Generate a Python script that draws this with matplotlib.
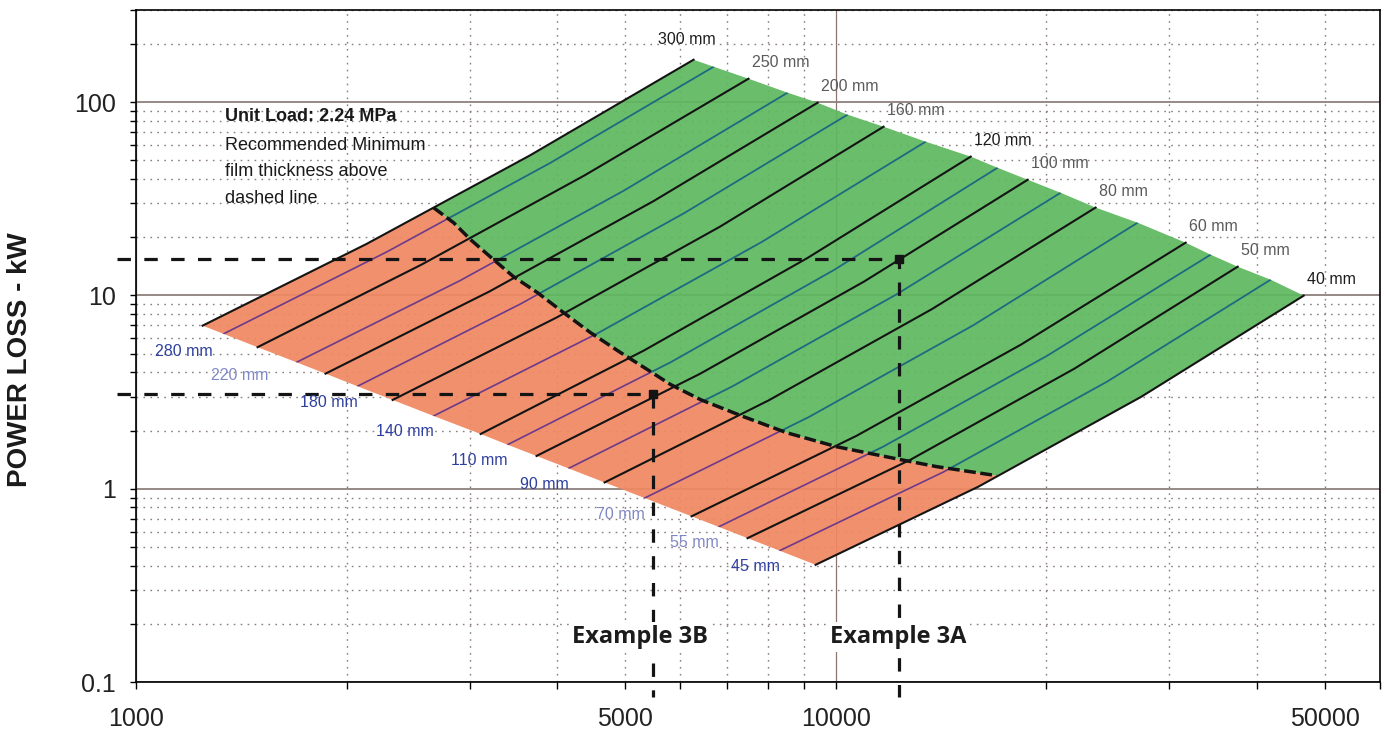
import numpy as np
import matplotlib
matplotlib.use("Agg")
import matplotlib.pyplot as plt
from matplotlib.patches import Polygon
from matplotlib.ticker import LogLocator, FuncFormatter, NullFormatter

plt.rcParams["font.family"] = ["Liberation Sans", "DejaVu Sans"]

# ── Values ────────────────────────────────────────────────────────────────────
# shaft diameter (mm); every curve = start (min speed edge), two inner points,
# end (max speed edge)
diam_mm = [300, 280, 250, 220, 200, 180, 160, 140, 120, 110,
           100, 90, 80, 70, 60, 55, 50, 45, 40]

rpm_start = [1245, 1334, 1492, 1696, 1866, 2073, 2327, 2663, 3109, 3397,
             3737, 4152, 4675, 5334, 6225, 6805, 7484, 8317, 9363]
kw_start = [6.98, 6.33, 5.40, 4.51, 3.94, 3.39, 2.88, 2.38, 1.92, 1.69,
            1.478, 1.274, 1.078, 0.895, 0.720, 0.635, 0.555, 0.478, 0.404]

rpm_q1 = [2134, 2283, 2557, 2908, 3202, 3549, 3989, 4568, 5321, 5815,
          6406, 7124, 8014, 9159, 10710, 11680, 12820, 14260, 16000]
kw_q1 = [18.45, 16.81, 14.42, 11.96, 10.50, 9.06, 7.68, 6.37, 5.19, 4.52,
         3.94, 3.39, 2.86, 2.35, 1.878, 1.647, 1.419, 1.221, 1.025]

rpm_q2 = [3655, 3909, 4381, 4983, 5494, 6078, 6835, 7839, 9111, 9957,
          10980, 12220, 13730, 15740, 18410, 20030, 21940, 24430, 27320]
kw_q2 = [53.0, 48.5, 41.9, 34.9, 30.8, 26.7, 22.7, 18.9, 15.61, 13.58,
         11.80, 10.13, 8.50, 7.02, 5.57, 4.86, 4.18, 3.58, 2.985]

rpm_end = [6266, 6694, 7508, 8538, 9425, 10400, 11710, 13450, 15600, 17040,
           18820, 20970, 23530, 27020, 31650, 34360, 37560, 41870, 46680]
kw_end = [165.9, 152.6, 132.3, 112.0, 99.4, 86.2, 74.7, 62.5, 52.3, 45.8,
          39.7, 34.0, 28.5, 23.8, 18.76, 16.26, 14.09, 12.07, 9.98]

# recommended minimum film thickness limit (dashed)
film_rpm = [2663, 2844, 3008, 3245, 3464, 3749, 4085, 4464, 4929, 5386,
            5810, 6412, 7386, 8510, 10030, 12390, 13950, 16990]
film_kw = [28.46, 23.80, 19.44, 15.32, 12.51, 10.34, 8.15, 6.42, 5.06, 4.13,
           3.46, 2.89, 2.36, 1.95, 1.65, 1.414, 1.301, 1.169]

ex_names = ["Example 3A", "Example 3B"]
ex_rpm = [12300, 5490]
ex_kw = [15.5, 3.10]

note_lines = ["Unit Load: 2.24 MPa", "Recommended Minimum",
              "film thickness above", "dashed line"]

# ── Styles ────────────────────────────────────────────────────────────────────
GREEN = "#5fb860"
SALMON = "#f08862"
BLACK = "#141414"
TEAL = "#1e6a80"
PURPLE = "#6c3a8a"
BLUE_TXT = "#2e3f9e"
FADED_BLUE = ["220", "70", "55"]
SHARP_BLACK = ["300", "120", "40"]
LEAD_RPM, DROP_KW = 940, 0.084   # example guide lines run past the axes

fig = plt.figure(figsize=(13.86, 7.33), dpi=100)
ax = fig.add_axes([136 / 1386, 51 / 733, 1244 / 1386, 672 / 733])
ax.set_xscale("log")
ax.set_yscale("log")
ax.set_xlim(1000, 60000)
ax.set_ylim(0.1, 300)

# grid
ax.set_axisbelow(True)
ax.xaxis.set_major_locator(LogLocator(base=10, numticks=10))
ax.xaxis.set_minor_locator(LogLocator(base=10, subs=np.arange(2, 10), numticks=30))
ax.yaxis.set_major_locator(LogLocator(base=10, numticks=10))
ax.yaxis.set_minor_locator(LogLocator(base=10, subs=np.arange(2, 10), numticks=30))
ax.yaxis.grid(True, which="major", color="#8d807c", lw=1.3, ls="-")
ax.xaxis.grid(True, which="major", color="#8d7570", lw=0.9, ls="-")
ax.grid(True, which="minor", color="#8a7e7e", lw=1.0, ls=(0, (1.2, 3.8)))

ax.xaxis.set_major_formatter(FuncFormatter(lambda v, p: f"{v:.0f}"))
ax.xaxis.set_minor_formatter(FuncFormatter(
    lambda v, p: f"{v:.0f}" if int(round(v)) in (5000, 50000) else ""))
ax.yaxis.set_major_formatter(FuncFormatter(lambda v, p: f"{v:g}"))
ax.yaxis.set_minor_formatter(NullFormatter())
ax.tick_params(axis="x", which="both", direction="out", length=5, width=1,
               pad=13, labelsize=18, labelcolor="#222222")
ax.tick_params(axis="y", which="both", direction="out", length=4.5, width=1,
               pad=10, labelsize=18, labelcolor="#222222")
for s in ax.spines.values():
    s.set_color("black")
    s.set_linewidth(1.2)

# ── Regions ───────────────────────────────────────────────────────────────────
curves = [np.array([[rpm_start[i], kw_start[i]], [rpm_q1[i], kw_q1[i]],
                    [rpm_q2[i], kw_q2[i]], [rpm_end[i], kw_end[i]]])
          for i in range(len(diam_mm))]
film = np.column_stack([film_rpm, film_kw])
starts = np.column_stack([rpm_start, kw_start])
ends = np.column_stack([rpm_end, kw_end])
top, bot = curves[0], curves[-1]

red_xy = np.vstack([top[:2], film, bot[1::-1], starts[-2:0:-1]])
green_xy = np.vstack([film[:1], top[2:], ends[1:-1], bot[:1:-1], film[::-1]])

red_patch = Polygon(red_xy, closed=True, facecolor=SALMON, edgecolor="none",
                    alpha=0.93, zorder=1)
green_patch = Polygon(green_xy, closed=True, facecolor=GREEN, edgecolor="none",
                      alpha=0.93, zorder=1)
ax.add_patch(red_patch)
ax.add_patch(green_patch)

# ── Diameter curves ───────────────────────────────────────────────────────────
for i, (d, c) in enumerate(zip(diam_mm, curves)):
    if i % 2 == 0:
        ax.plot(c[:, 0], c[:, 1], color=BLACK, lw=1.5, zorder=3,
                solid_joinstyle="round")
    else:
        l1, = ax.plot(c[:, 0], c[:, 1], color=PURPLE, lw=1.2, zorder=2,
                      solid_joinstyle="round")
        l1.set_clip_path(red_patch)
        l2, = ax.plot(c[:, 0], c[:, 1], color=TEAL, lw=1.3, zorder=2.1,
                      solid_joinstyle="round")
        l2.set_clip_path(green_patch)

# labels: black curves at max speed end, blue curves at min speed start
for i, d in enumerate(diam_mm):
    txt = f"{d} mm"
    if i % 2 == 0:
        off = (-36, 20) if d == 300 else (3, 16)
        col = "#1c1c1c" if str(d) in SHARP_BLACK else "#5a5a5a"
        ax.annotate(txt, (rpm_end[i], kw_end[i]), xytext=off,
                    textcoords="offset pixels", ha="left", va="center",
                    fontsize=11.5, color=col, zorder=7)
    else:
        off = {280: (-11, -18), 220: (-28, -13)}.get(d, (0, -16))
        col = "#8088c4" if str(d) in FADED_BLUE else BLUE_TXT
        ax.annotate(txt, (rpm_start[i], kw_start[i]), xytext=off,
                    textcoords="offset pixels", ha="right", va="center",
                    fontsize=11.5, color=col, zorder=7)

# minimum film thickness boundary
ax.plot(film[:, 0], film[:, 1], color=BLACK, lw=2.5, ls=(0, (3.4, 1.3)),
        zorder=4, dash_capstyle="butt")

# ── Worked examples ───────────────────────────────────────────────────────────
for name, n, p, dx in zip(ex_names, ex_rpm, ex_kw, [0, -13]):
    ax.plot([LEAD_RPM, n, n], [p, p, DROP_KW], color=BLACK, lw=2.3,
            ls=(0, (4.2, 4.2)), clip_on=False, zorder=5)
    ax.plot([n], [p], marker="s", ms=6, color=BLACK, zorder=6)
    ax.annotate(name, (n, 0), xycoords=("data", "axes fraction"),
                xytext=(dx, 45), textcoords="offset pixels",
                ha="center", va="center", fontsize=17, fontweight="bold",
                family=["Open Sans", "DejaVu Sans"], color="#1c1c1c",
                bbox=dict(facecolor="white", edgecolor="none", pad=2),
                zorder=8)

# ── Annotation text ───────────────────────────────────────────────────────────
for k, (line, yf) in enumerate(zip(note_lines, [0.841, 0.799, 0.759, 0.720])):
    ax.text(0.0715, yf, line, transform=ax.transAxes, ha="left", va="center",
            fontsize=13, color="#1a1a1a",
            fontweight="bold" if k == 0 else "normal", zorder=7)

fig.text(20 / 1386, 1 - 360 / 733, "POWER LOSS - kW", rotation=90,
         ha="center", va="center", fontsize=20, fontweight="bold",
         color="#1a1a1a")

fig.savefig("out.png", dpi=100)
